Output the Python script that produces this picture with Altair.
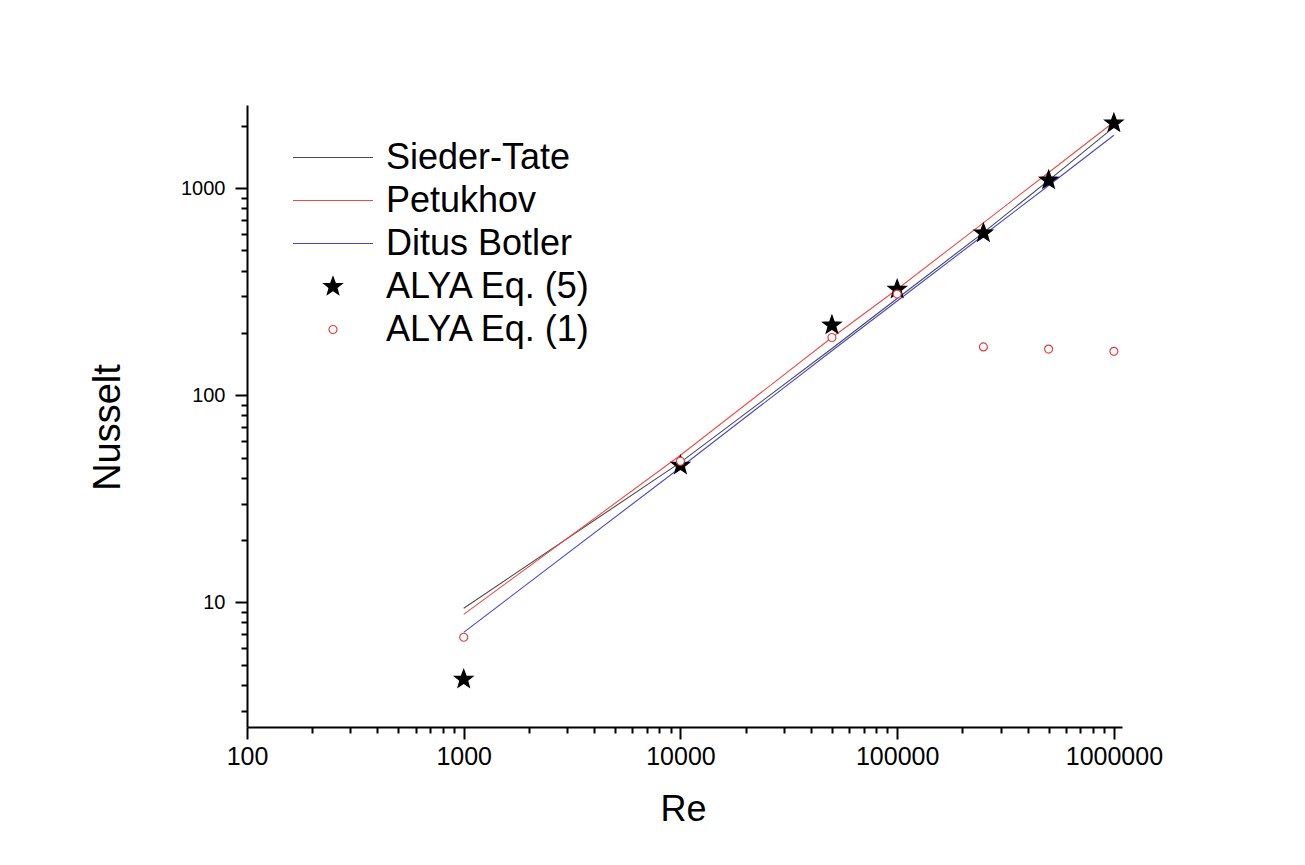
import math
import altair as alt
import pandas as pd

# ---------------- data ----------------
series_names = ["Sieder-Tate", "Petukhov", "Ditus Botler", "ALYA Eq. (5)", "ALYA Eq. (1)"]

re_values = [1000, 10000, 50000, 100000, 250000, 500000, 1000000]

sieder_tate = [9.36, 47.4, 168, 293, 610, 1090, 1970]
petukhov = [8.75, 51.3, 190, 325, 680, 1190, 2085]
ditus_botler = [7.16, 44.8, 164, 285, 592, 1030, 1800]

alya_eq5 = [4.25, 45.9, 218, 325, 607, 1093, 2060]
alya_eq1 = [6.78, 48.0, 190, 308, 171, 167, 163]

x_tick_values = [m * 10 ** e for e in range(2, 6) for m in range(1, 10)] + [1000000]
x_tick_labels = [100, 1000, 10000, 100000, 1000000]
y_tick_values = [m * 10 ** e for e in range(0, 3) for m in range(1, 10) if m * 10 ** e >= 3] + [1000, 2000]
y_tick_labels = [10, 100, 1000]

series_colors = ["#4a4a4a", "#ee4a48", "#4646d6", "black", "#e0413f"]

# ---------------- symbol shapes (legend + points) ----------------
def star_path(r_out=0.24, r_in=0.1):
    pts = []
    for k in range(10):
        ang = math.radians(-90 + 36 * k)
        r = r_out if k % 2 == 0 else r_in
        pts.append(f"{r * math.cos(ang):.4f},{r * math.sin(ang):.4f}")
    return "M" + "L".join(pts) + "Z"

circle_r = 0.1
circle_path = (f"M{-circle_r},0A{circle_r},{circle_r} 0 1,0 {circle_r},0"
               f"A{circle_r},{circle_r} 0 1,0 {-circle_r},0Z")
line_path = "M-1,0L1,0"
series_shapes = [line_path, line_path, line_path, star_path(), circle_path]
series_fills = ["transparent", "transparent", "transparent", "black", "white"]

# ---------------- tables ----------------
line_rows = []
for name, vals in zip(series_names[:3], [sieder_tate, petukhov, ditus_botler]):
    for i, (r, v) in enumerate(zip(re_values, vals)):
        line_rows.append({"series": name, "Re": r, "Nu": v, "order": i})
lines_df = pd.DataFrame(line_rows)

point_rows = []
for name, vals in zip(series_names[3:], [alya_eq5, alya_eq1]):
    for r, v in zip(re_values, vals):
        point_rows.append({"series": name, "Re": r, "Nu": v})
points_df = pd.DataFrame(point_rows)

FONT = "Liberation Sans"

x_label_test = "indexof([" + ",".join(str(v) for v in x_tick_labels) + "], datum.value) >= 0"
y_label_test = "indexof([" + ",".join(str(v) for v in y_tick_labels) + "], datum.value) >= 0"

x_axis = alt.Axis(
    values=x_tick_values,
    labelExpr=f"{x_label_test} ? format(datum.value, 'd') : ''",
    tickSize={"condition": {"test": x_label_test, "value": 12}, "value": 6},
    grid=False, domainColor="black", domainWidth=2, tickColor="black", tickWidth=2,
    labelFont=FONT, labelFontSize=25, labelColor="black", labelPadding=5,
    labelFlush=False, labelOverlap=False,
    titleFont=FONT, titleFontSize=36, titleFontWeight="normal", titleColor="black",
    titleX=436, titleY=93, titleBaseline="alphabetic", titleAlign="center",
)
y_axis = alt.Axis(
    values=y_tick_values,
    labelExpr=f"{y_label_test} ? format(datum.value, 'd') : ''",
    tickSize={"condition": {"test": y_label_test, "value": 12}, "value": 6},
    grid=False, domainColor="black", domainWidth=2, tickColor="black", tickWidth=2,
    labelFont=FONT, labelFontSize=20, labelColor="black", labelPadding=10,
    labelFlush=False, labelOverlap=False,
    titleFont=FONT, titleFontSize=38, titleFontWeight="normal", titleColor="black",
    titleX=-128, titleY=322, titleAngle=-90, titleBaseline="alphabetic", titleAlign="center",
)

x_scale = alt.Scale(type="log", domain=[100, 1090000], nice=False)
y_scale = alt.Scale(type="log", domain=[2.5, 2520], nice=False)

legend = alt.Legend(title=None)

stroke_enc = alt.Stroke("series:N", scale=alt.Scale(domain=series_names, range=series_colors),
                        sort=series_names, legend=legend)
fill_enc = alt.Fill("series:N", scale=alt.Scale(domain=series_names, range=series_fills),
                    sort=series_names, legend=legend)
shape_enc = alt.Shape("series:N", scale=alt.Scale(domain=series_names, range=series_shapes),
                      sort=series_names, legend=legend)

lines = alt.Chart(lines_df).mark_line(strokeWidth=1.1).encode(
    x=alt.X("Re:Q", scale=x_scale, axis=x_axis, title="Re"),
    y=alt.Y("Nu:Q", scale=y_scale, axis=y_axis, title="Nusselt"),
    stroke=stroke_enc,
    detail="series:N",
    order="order:Q",
)

points = alt.Chart(points_df).mark_point(size=6400, strokeWidth=1.2, opacity=1).encode(
    x=alt.X("Re:Q", scale=x_scale, axis=x_axis, title="Re"),
    y=alt.Y("Nu:Q", scale=y_scale, axis=y_axis, title="Nusselt"),
    stroke=stroke_enc,
    fill=fill_enc,
    shape=shape_enc,
)

chart = alt.layer(lines, points).properties(
    width=875,
    height=622,
    autosize=alt.AutoSizeParams(type="none"),
    padding={"left": 239, "top": 97, "right": 175, "bottom": 130},
    background="white",
).configure_view(
    stroke=None
).configure_legend(
    orient="none", legendX=45, legendY=31, padding=0, rowPadding=0, clipHeight=43,
    symbolSize=6400, symbolOffset=0, symbolStrokeWidth=1.2,
    labelFont=FONT, labelFontSize=36, labelColor="black", labelOffset=12, labelLimit=600,
)

chart.save("out.html", embed_options={"renderer": "svg", "actions": False})
